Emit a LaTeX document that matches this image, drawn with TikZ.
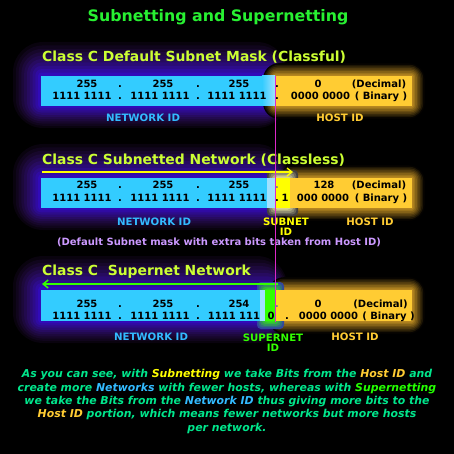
\documentclass[tikz,border=0pt]{standalone}
\usepackage{fontspec}
\setmainfont{DejaVu Sans}
\usetikzlibrary{arrows.meta}
\definecolor{maingreen}{RGB}{40,240,50}
\definecolor{headlime}{RGB}{204,255,51}
\definecolor{barcyan}{RGB}{51,204,255}
\definecolor{barpale}{RGB}{160,225,255}
\definecolor{barorange}{RGB}{255,204,51}
\definecolor{subyellow}{RGB}{255,255,0}
\definecolor{supgreen}{RGB}{51,255,0}
\definecolor{netblue}{RGB}{51,187,255}
\definecolor{hostorange}{RGB}{255,204,51}
\definecolor{lavender}{RGB}{204,153,255}
\definecolor{notegreen}{RGB}{0,230,140}
\definecolor{glowin}{RGB}{50,10,210}
\definecolor{glowout}{RGB}{90,30,140}
\definecolor{glowgold}{RGB}{230,170,40}
\definecolor{divider}{RGB}{220,40,200}

\begin{document}
\begin{tikzpicture}[x=1pt,y=-1pt,>={Straight Barb[length=5pt,width=8pt]},title/.style={font=\fontsize{15.8}{18}\selectfont\bfseries,text=maingreen,inner sep=0pt},head/.style={font=\fontsize{13.9}{16}\selectfont\bfseries,text=headlime,anchor=west,inner sep=0pt},num/.style={font=\fontsize{10}{12}\selectfont\bfseries,inner sep=0pt,anchor=base},lab/.style={font=\fontsize{10.2}{10.5}\selectfont\bfseries,align=center,inner sep=0pt},note/.style={font=\fontsize{10.9}{13.3}\selectfont\bfseries\itshape,text=notegreen,align=center,inner sep=0pt}]
\fill[black] (0,0) rectangle (454,454); \useasboundingbox (0,0) rectangle (454,454);
\node[title] (maintitle) at (218,17) {Subnetting and Supernetting};
\foreach \ya/\yb in {76/106,178/208,290/321}{
  \foreach \k in {10,...,1}{
    \pgfmathtruncatemacro\p{100-9*\k} \pgfmathtruncatemacro\q{100-10*\k} \pgfmathsetmacro\r{3*\k}
    \fill[glowin!\q!glowout!\p!black,rounded corners=\r pt] (41-2.8*\k,\ya-3.4*\k) rectangle (275+1.2*\k,\yb+2.2*\k);
  }
}
\foreach \ya/\yb/\xo in {76/106/275,178/208/290,290/321/280}{
  \foreach \k in {8,...,1}{
    \pgfmathtruncatemacro\p{90-11*\k} \pgfmathsetmacro\r{2*\k}
    \fill[glowgold!\p!black,rounded corners=\r pt] (\xo-1.5*\k,\ya-1.6*\k) rectangle (412+1.6*\k,\yb+1.6*\k);
  }
}
\foreach \k in {5,...,1}{\pgfmathtruncatemacro\p{100-17*\k} \fill[white!60!yellow!\p!black,rounded corners=4pt] (275-1.6*\k,178-1.6*\k) rectangle (290+1.6*\k,208+1.6*\k);}
\foreach \k in {5,...,1}{\pgfmathtruncatemacro\p{100-15*\k} \fill[supgreen!\p!glowin,rounded corners=4pt] (265-1.6*\k,290-1.6*\k) rectangle (276+1.6*\k,321+1.6*\k);}
\node[head] (head1) at (42,57) {Class C Default Subnet Mask (Classful)};
\shade[left color=barcyan,right color=barpale] (262,76) rectangle (275,106); \fill[barcyan] (41,76) rectangle (262,106); \fill[barorange] (275,76) rectangle (412,106);
\foreach \x/\t [count=\i] in {87/255,120/.,163/255,198/.,239/255,277/.,318/0,379/{(Decimal)}} \node[num] (a\i) at (\x,88) {\t};
\foreach \x/\t [count=\i] in {82/1111 1111,120/.,160/1111 1111,198/.,237/1111 1111,277/.,320.5/0000 0000,381/{( Binary )}} \node[num] (b\i) at (\x,100) {\t};
\node[lab,text=netblue] (net1) at (143,118) {NETWORK ID}; \node[lab,text=hostorange] (host1) at (340,118) {HOST ID};
\node[head] (head2) at (42,160) {Class C Subnetted Network (Classless)};
\coordinate (subfrom) at (42,172); \coordinate (subto) at (293,172);
\draw[->,subyellow,line width=1.3pt] (subfrom) -- (subto);
\fill[barcyan] (41,178) rectangle (267,208); \fill[barpale] (267,178) rectangle (275,208); \fill[subyellow] (275,178) rectangle (290,208); \fill[barorange] (290,178) rectangle (412,208);
\foreach \x/\t [count=\i] in {87/255,120/.,163/255,198/.,239/255,324/128,379/{(Decimal)}} \node[num] (c\i) at (\x,189) {\t};
\node[num,text=gray] (cdot) at (277,189) {.};
\foreach \x/\t [count=\i] in {82/1111 1111,120/.,160/1111 1111,198/.,237/1111 1111,277/.,285/1,323/000 0000,381/{( Binary )}} \node[num] (d\i) at (\x,201) {\t};
\node[lab,text=netblue] (net2) at (154,222) {NETWORK ID}; \node[lab,text=subyellow] (subid) at (286,226.5) {SUBNET\\ID}; \node[lab,text=hostorange] (host2) at (370,222) {HOST ID};
\node[lab,text=lavender,font=\fontsize{10}{11}\selectfont\bfseries] (default) at (219,242.5) {(Default Subnet mask with extra bits taken from Host ID)};
\node[head] (head3) at (42,272) {Class C\ \ Supernet Network};
\coordinate (supfrom) at (278,284); \coordinate (supto) at (42,284);
\draw[->,supgreen,line width=1.5pt] (supfrom) -- (supto);
\fill[barcyan] (41,290) rectangle (260,321); \fill[barpale] (260,290) rectangle (265,321); \fill[supgreen] (265,290) rectangle (276,321); \fill[yellow!40!barorange] (276,290) rectangle (280,321); \fill[barorange] (280,290) rectangle (412,321);
\foreach \x/\t [count=\i] in {87/255,120/.,163/255,198/.,239/254,318/0,380.5/{(Decimal)}} \node[num] (e\i) at (\x,307) {\t};
\node[num,text=gray] (edot) at (277,307) {.};
\foreach \x/\t [count=\i] in {82/1111 1111,120/.,160/1111 1111,198/.,234/1111 111,271/0,287/.,328.5/0000 0000,388.5/{( Binary )}} \node[num] (f\i) at (\x,319) {\t};
\node[lab,text=netblue] (net3) at (151,337) {NETWORK ID}; \node[lab,text=supgreen] (supid) at (273,342.5) {SUPERNET\\ID}; \node[lab,text=hostorange] (host3) at (355,337) {HOST ID};
\coordinate (divtop) at (275.5,76); \coordinate (divbot) at (275.5,322);
\draw[divider,line width=0.8pt] (divtop) -- (divbot);
\node[note] (summary) at (227,401.5) {As you can see, with \textcolor{subyellow}{Subnetting} we take Bits from the \textcolor{hostorange}{Host ID} and\\create more \textcolor{netblue}{Networks} with fewer hosts, whereas with \textcolor{supgreen!70!green}{Supernetting}\\we take the Bits from the \textcolor{netblue}{Network ID} thus giving more bits to the\\\textcolor{hostorange}{Host ID} portion, which means fewer networks but more hosts\\per network.};
\end{tikzpicture}
\end{document}
